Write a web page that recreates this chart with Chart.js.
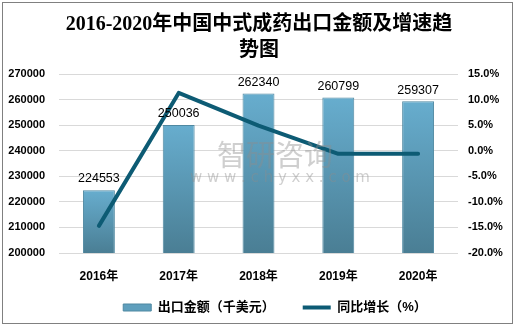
<!DOCTYPE html>
<html>
<head>
<meta charset="utf-8">
<script src="https://cdn.jsdelivr.net/npm/chart.js@4.4.0/dist/chart.umd.min.js"></script>
<style>
  body { margin: 0; background: #fff; }
  canvas { display: block; }
</style>
</head>
<body>
<canvas id="exportChart" width="518" height="330"></canvas>
<script>
const years = ['2016年', '2017年', '2018年', '2019年', '2020年'];
const exportValues = [224553, 250036, 262340, 260799, 259307];
const growthRates = [-14.7, 11.3, 4.9, -0.6, -0.6];
const amountTicks = [200000, 210000, 220000, 230000, 240000, 250000, 260000, 270000];
const rateTicks = [-20, -15, -10, -5, 0, 5, 10, 15];

const lineColor = '#0d5b74';
const sansFont = "'Liberation Sans', 'Noto Sans CJK SC', sans-serif";

// gradient per bar, light at the top, darker at the base
function barFill(c) {
  const chart = c.chart;
  const area = chart.chartArea;
  if (!area || !chart.scales.y) return '#5c9cba';
  const top = chart.scales.y.getPixelForValue(c.raw);
  const g = chart.ctx.createLinearGradient(0, top, 0, area.bottom);
  g.addColorStop(0, '#67adce');
  g.addColorStop(1, '#4a7e94');
  return g;
}

// frame, value labels and watermark
const extras = {
  id: 'extras',
  afterLayout(chart) {
    // legend sits a little right of centre and closer to the axis
    chart.legend.left += 32;
    chart.legend.top -= 10;
    chart.legend.bottom -= 10;
  },
  afterDatasetsDraw(chart) {
    const ctx = chart.ctx;
    const meta = chart.getDatasetMeta(0);
    ctx.save();
    ctx.fillStyle = '#000';
    ctx.font = '12.5px ' + sansFont;
    ctx.textAlign = 'center';
    ctx.textBaseline = 'bottom';
    meta.data.forEach((bar, i) => {
      ctx.fillText(exportValues[i], bar.x, bar.y - 5);
    });

    ctx.globalAlpha = 0.42;
    ctx.fillStyle = '#8c8c8c';
    ctx.textAlign = 'left';
    ctx.textBaseline = 'middle';
    ctx.font = '29px "Noto Sans CJK SC"';
    ctx.fillText('智研咨询', 217, 155);
    ctx.font = '15px "DejaVu Sans"';
    ctx.fillText('w w w . c h y x x . c o m', 190, 178);
    ctx.restore();
  },
  afterDraw(chart) {
    const ctx = chart.ctx;
    ctx.save();
    ctx.strokeStyle = '#808080';
    ctx.lineWidth = 1;
    ctx.strokeRect(2.5, 2.5, 510, 321);
    ctx.restore();
  }
};

new Chart(document.getElementById('exportChart'), {
  type: 'bar',
  data: {
    labels: years,
    datasets: [
      {
        label: '出口金额（千美元）',
        data: exportValues,
        yAxisID: 'y',
        backgroundColor: barFill,
        borderColor: '#4f88a1',
        borderWidth: 1,
        barPercentage: 0.8,
        categoryPercentage: 0.5,
        order: 1
      },
      {
        type: 'line',
        label: '同比增长（%）',
        data: growthRates,
        yAxisID: 'y1',
        borderColor: lineColor,
        borderWidth: 4,
        borderCapStyle: 'round',
        borderJoinStyle: 'round',
        pointRadius: 0,
        tension: 0,
        order: 0
      }
    ]
  },
  options: {
    responsive: false,
    animation: false,
    devicePixelRatio: 1,
    layout: { padding: { left: 2, right: 2, top: 0, bottom: 3 } },
    plugins: {
      title: {
        display: true,
        text: ['2016-2020年中国中式成药出口金额及增速趋', '势图'],
        color: '#000',
        font: { family: "'Liberation Serif', 'Noto Sans CJK SC', serif", size: 20, weight: 'bold', lineHeight: 1.3 },
        padding: { top: 12, bottom: 10 }
      },
      legend: {
        position: 'bottom',
        maxHeight: 44,
        labels: {
          color: '#000',
          font: { family: sansFont, size: 13, weight: 'bold' },
          usePointStyle: true,
          pointStyleWidth: 28,
          boxHeight: 7,
          padding: 28,
          generateLabels: () => [
            { text: '出口金额（千美元）', pointStyle: 'rect', fillStyle: '#5f9fbd', strokeStyle: '#4f88a1', lineWidth: 1, datasetIndex: 0 },
            { text: '同比增长（%）', pointStyle: 'line', fillStyle: lineColor, strokeStyle: lineColor, lineWidth: 4, datasetIndex: 1 }
          ]
        }
      },
      tooltip: { enabled: false }
    },
    scales: {
      x: {
        grid: { display: false },
        border: { display: false },
        afterFit: (s) => { s.height = 30; },
        ticks: {
          color: '#000',
          padding: 8,
          font: { family: sansFont, size: 12, weight: 'bold' }
        }
      },
      y: {
        position: 'left',
        min: amountTicks[0],
        max: amountTicks[amountTicks.length - 1],
        afterBuildTicks: (s) => { s.ticks = amountTicks.map(v => ({ value: v })); },
        afterFit: (s) => { s.width = 57; },
        grid: { color: '#d9d9d9', drawTicks: false },
        border: { display: false },
        ticks: {
          color: '#000',
          padding: 14,
          font: { family: sansFont, size: 11, weight: 'bold' },
          callback: (v) => String(v)
        }
      },
      y1: {
        position: 'right',
        min: rateTicks[0],
        max: rateTicks[rateTicks.length - 1],
        afterBuildTicks: (s) => { s.ticks = rateTicks.map(v => ({ value: v })); },
        afterFit: (s) => { s.width = 58; },
        grid: { display: false, drawTicks: false },
        border: { display: false },
        ticks: {
          color: '#000',
          padding: 10,
          font: { family: sansFont, size: 11, weight: 'bold' },
          callback: (v) => v.toFixed(1) + '%'
        }
      }
    }
  },
  plugins: [extras]
});
</script>
</body>
</html>
